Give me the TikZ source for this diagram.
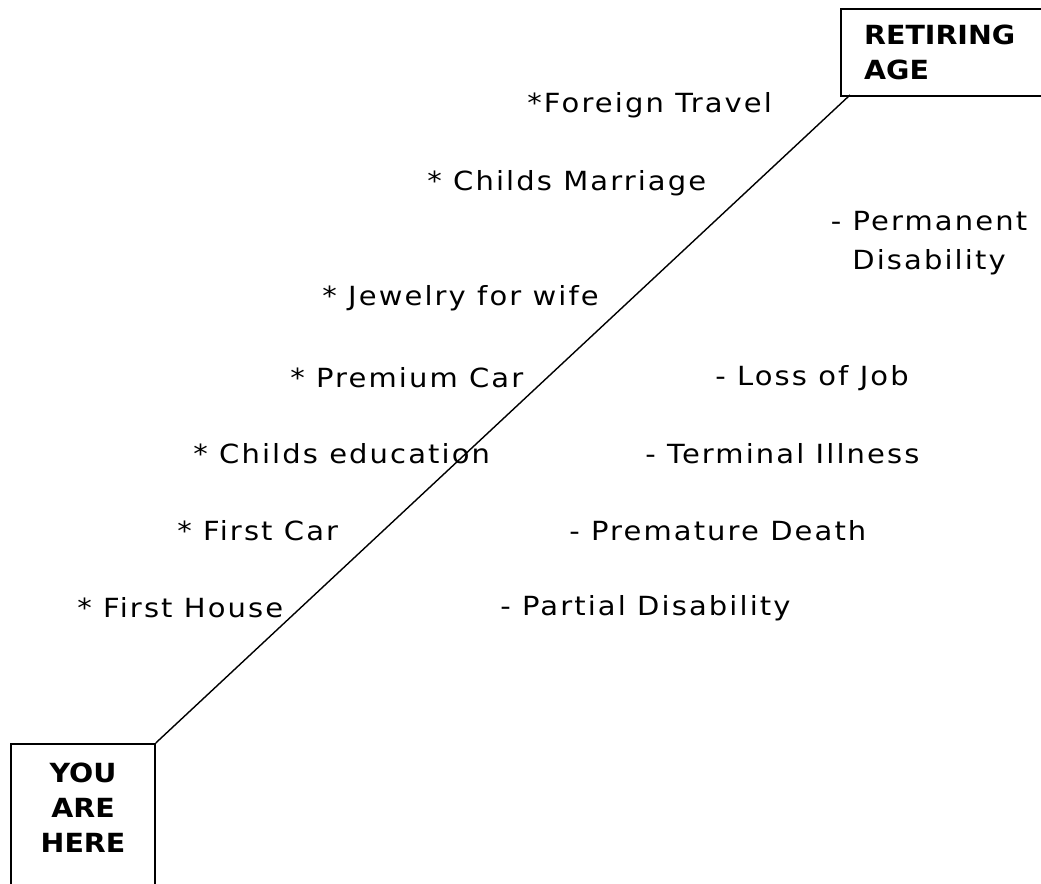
\documentclass[tikz,border=0pt]{standalone}
\usepackage{fontspec}
\setmainfont{DejaVu Sans}[FakeStretch=1.1,LetterSpace=8,BoldFeatures={FakeStretch=1.08,LetterSpace=0}]
\usetikzlibrary{positioning}

\begin{document}
\begin{tikzpicture}[x=0.02cm,y=-0.02cm,
	every node/.style={font=\fontsize{15}{20}\selectfont},
	goal/.style={anchor=west,inner sep=0pt},
	risk/.style={anchor=west,inner sep=0pt,align=center},
	agebox/.style={draw,line width=1pt,inner sep=0pt}]
	\useasboundingbox (0,0) rectangle (1041,884);
	\clip (0,0) rectangle (1041,884);
	% the two boxes
	\node[agebox,minimum width=144*0.02cm,minimum height=200*0.02cm,anchor=north west] (here) at (10,743) {};
	\node[align=center] (heretext) at (83,808) {\bfseries YOU\\\bfseries ARE\\\bfseries HERE};
	\node[agebox,minimum width=250*0.02cm,minimum height=87*0.02cm,anchor=north west] (retire) at (840,8) {};
	\node[align=left,anchor=west] (retiretext) at (858,52) {\bfseries RETIRING\\\bfseries AGE};
	\coordinate (top) at (850,95);
	\draw[line width=0.8pt] (here.north east) -- (top);
	% goals
	\node[goal] (travel) at (527,105) {*Foreign Travel};
	\node[goal] (marriage) at (427,183) {* Childs Marriage};
	\node[goal] (jewel) at (322,298) {* Jewelry for wife};
	\node[goal] (pcar) at (290,378) {* Premium Car};
	\node[goal] (edu) at (193,454) {* Childs education};
	\node[goal] (fcar) at (177,531) {* First Car};
	\node[goal] (house) at (77,608) {* First House};
	% risks
	\node[risk,anchor=center,font=\fontsize{15}{22}\selectfont] (perm) at (929,243) {- Permanent\\Disability};
	\node[risk] (job) at (715,378) {- Loss of Job};
	\node[risk] (ill) at (645,454) {- Terminal Illness};
	\node[risk] (death) at (569,531) {- Premature Death};
	\node[risk] (partial) at (500,608) {- Partial Disability};
\end{tikzpicture}
\end{document}
